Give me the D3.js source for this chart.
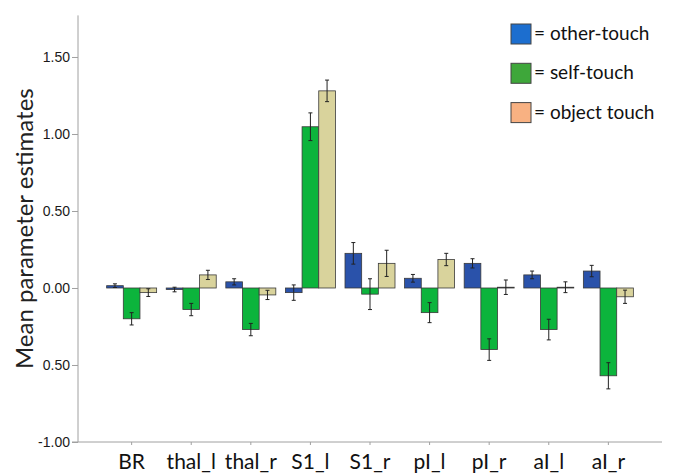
<!DOCTYPE html>
<html>
<head>
<meta charset="utf-8">
<script src="https://cdn.jsdelivr.net/npm/d3@7"></script>
<style>
  body { margin: 0; background: #fff; }
  svg { display: block; }
</style>
</head>
<body>
<div id="chart"></div>
<script>
const regions = ['BR', 'thal_l', 'thal_r', 'S1_l', 'S1_r', 'pI_l', 'pI_r', 'aI_l', 'aI_r'];
const seriesNames = ['other-touch', 'self-touch', 'object touch'];

// mean estimates per region
const otherTouch = [0.015, -0.01, 0.04, -0.03, 0.225, 0.063, 0.16, 0.085, 0.11];
const selfTouch = [-0.20, -0.14, -0.27, 1.047, -0.04, -0.16, -0.40, -0.27, -0.57];
const objectTouch = [-0.03, 0.085, -0.045, 1.28, 0.16, 0.185, 0.005, 0.005, -0.057];

// error bar half-lengths
const otherErr = [0.012, 0.015, 0.02, 0.05, 0.07, 0.025, 0.03, 0.025, 0.037];
const selfErr = [0.04, 0.04, 0.04, 0.09, 0.10, 0.065, 0.07, 0.067, 0.085];
const objectErr = [0.025, 0.03, 0.03, 0.07, 0.085, 0.04, 0.047, 0.035, 0.043];

const yTickValues = [1.5, 1.0, 0.5, 0.0, -0.5, -1.0];
const yTickLabels = ['1.50', '1.00', '0.50', '0.00', '0.50', '-1.00'];

const barColors = ['#2a52aa', '#0cb43c', '#d9d39c'];
const legendColors = ['#1c6ecf', '#3ea73a', '#f8b182'];

const width = 674;
const height = 475;

const svg = d3.select('#chart')
    .append('svg')
    .attr('width', width)
    .attr('height', height);

const x = d3.scaleBand()
    .domain(regions)
    .range([78, 662])
    .paddingInner(0)
    .paddingOuter(0.4);

const xInner = d3.scaleBand()
    .domain(seriesNames)
    .range([0, 50]);

const y = d3.scaleLinear()
    .domain([-1, 1.77])
    .range([442, 15.4]);

const values = [otherTouch, selfTouch, objectTouch];
const errs = [otherErr, selfErr, objectErr];

const rows = [];
regions.forEach((r, i) => {
    seriesNames.forEach((s, j) => {
        rows.push({ region: r, series: s, idx: j, value: values[j][i], err: errs[j][i] });
    });
});

// axes
const axisColor = '#a0a0a0';

const yAxis = svg.append('g')
    .attr('transform', `translate(${x.range()[0]},0)`)
    .call(d3.axisLeft(y)
        .tickValues(yTickValues)
        .tickFormat((d, i) => yTickLabels[i])
        .tickSize(6)
        .tickPadding(2));
yAxis.select('.domain').attr('stroke', axisColor).attr('d', `M-6,${y(-1)}H0V${y.range()[1]}`);
yAxis.selectAll('.tick line').attr('stroke', axisColor);
yAxis.selectAll('.tick text')
    .attr('fill', '#1a1a1a')
    .style('font', '14px "Liberation Sans", Arial, sans-serif');

const xAxis = svg.append('g')
    .attr('transform', `translate(0,${y(-1)})`)
    .call(d3.axisBottom(x).tickSize(3).tickPadding(9));
xAxis.select('.domain').attr('stroke', axisColor).attr('d', `M${x.range()[0]},0H${x.range()[1]}`);
xAxis.selectAll('.tick line').attr('stroke', axisColor);
xAxis.selectAll('.tick text')
    .attr('fill', '#111')
    .attr('dy', '0.71em')
    .style('font', '21px Lato, sans-serif');

// bars
const groupLeft = d => x(d.region) + x.bandwidth() / 2 - 25;

svg.append('g')
    .selectAll('rect')
    .data(rows)
    .join('rect')
    .attr('x', d => groupLeft(d) + xInner(d.series))
    .attr('width', xInner.bandwidth())
    .attr('y', d => y(Math.max(0, d.value)))
    .attr('height', d => Math.abs(y(d.value) - y(0)))
    .attr('fill', d => barColors[d.idx])
    .attr('stroke', '#3a3a3a')
    .attr('stroke-width', 0.8);

// error bars
const eb = svg.append('g')
    .attr('stroke', '#222')
    .attr('stroke-width', 1);

const cx = d => groupLeft(d) + xInner(d.series) + xInner.bandwidth() / 2;

eb.selectAll('line.v')
    .data(rows)
    .join('line')
    .attr('class', 'v')
    .attr('x1', cx)
    .attr('x2', cx)
    .attr('y1', d => y(d.value + d.err))
    .attr('y2', d => y(d.value - d.err));

eb.selectAll('line.top')
    .data(rows)
    .join('line')
    .attr('class', 'top')
    .attr('x1', d => cx(d) - 2)
    .attr('x2', d => cx(d) + 2)
    .attr('y1', d => y(d.value + d.err))
    .attr('y2', d => y(d.value + d.err));

eb.selectAll('line.bot')
    .data(rows)
    .join('line')
    .attr('class', 'bot')
    .attr('x1', d => cx(d) - 2)
    .attr('x2', d => cx(d) + 2)
    .attr('y1', d => y(d.value - d.err))
    .attr('y2', d => y(d.value - d.err));

// y title
svg.append('text')
    .attr('transform', `translate(33,${(y(-1) + y.range()[1]) / 2}) rotate(-90)`)
    .attr('text-anchor', 'middle')
    .attr('fill', '#222')
    .style('font', '24px Lato, sans-serif')
    .text('Mean parameter estimates');

// legend
const legend = svg.append('g')
    .selectAll('g')
    .data(seriesNames)
    .join('g')
    .attr('transform', (d, i) => `translate(511,${24 + i * 39.3})`);

legend.append('rect')
    .attr('width', 20)
    .attr('height', 20)
    .attr('fill', (d, i) => legendColors[i])
    .attr('stroke', '#444')
    .attr('stroke-width', 1);

legend.append('text')
    .attr('x', 23)
    .attr('y', 16)
    .attr('fill', '#111')
    .style('font', '19px Lato, sans-serif')
    .text(d => `= ${d}`);
</script>
</body>
</html>
